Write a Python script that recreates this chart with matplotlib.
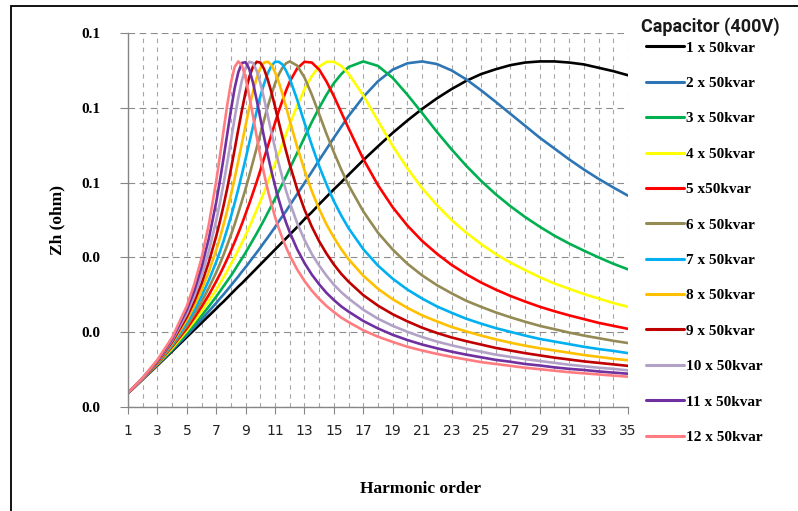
import matplotlib
matplotlib.use("Agg")
import matplotlib.pyplot as plt
from matplotlib.patches import Rectangle
from matplotlib.ticker import FormatStrFormatter

# Порядок гармоніки (спільна вісь x для всіх кривих)
harmonic = [1, 2, 3, 4, 5, 5.5, 6, 6.5, 7, 7.25, 7.5, 7.75, 8, 8.25, 8.5, 8.75,
            9, 9.25, 9.5, 9.75, 10, 10.25, 10.5, 10.75, 11, 11.25, 11.5, 11.75,
            12, 12.5, 13, 13.5, 14, 14.5, 15, 15.5, 16, 17, 18, 19, 20, 21, 22,
            23, 24, 25, 26, 27, 28, 29, 30, 31, 32, 33, 34, 35]

# Zh (ohm) для кожної кількості конденсаторних ступенів
zh_1 = [0.0037, 0.0074, 0.0111, 0.0149, 0.0187, 0.0206, 0.0225, 0.0244, 0.0263, 0.0273,
        0.0282, 0.0292, 0.0302, 0.0312, 0.0322, 0.0331, 0.0341, 0.0351, 0.0361, 0.0371,
        0.0381, 0.0391, 0.0401, 0.0411, 0.0421, 0.0431, 0.0441, 0.0451, 0.0461, 0.0481,
        0.0502, 0.0521, 0.0542, 0.0562, 0.0582, 0.0601, 0.0621, 0.0660, 0.0697, 0.0733,
        0.0766, 0.0797, 0.0825, 0.0850, 0.0872, 0.0890, 0.0903, 0.0914, 0.0921, 0.0924,
        0.0924, 0.0921, 0.0916, 0.0907, 0.0898, 0.0887]
zh_2 = [0.0037, 0.0074, 0.0113, 0.0152, 0.0192, 0.0213, 0.0234, 0.0256, 0.0278, 0.0290,
        0.0301, 0.0313, 0.0325, 0.0337, 0.0349, 0.0362, 0.0374, 0.0387, 0.0400, 0.0413,
        0.0426, 0.0440, 0.0453, 0.0467, 0.0481, 0.0496, 0.0510, 0.0524, 0.0539, 0.0569,
        0.0599, 0.0629, 0.0660, 0.0690, 0.0720, 0.0749, 0.0778, 0.0829, 0.0871, 0.0902,
        0.0919, 0.0924, 0.0917, 0.0900, 0.0876, 0.0847, 0.0816, 0.0784, 0.0752, 0.0720,
        0.0691, 0.0662, 0.0635, 0.0610, 0.0587, 0.0565]
zh_3 = [0.0037, 0.0075, 0.0114, 0.0154, 0.0198, 0.0221, 0.0244, 0.0269, 0.0295, 0.0309,
        0.0323, 0.0337, 0.0351, 0.0366, 0.0382, 0.0397, 0.0413, 0.0430, 0.0447, 0.0464,
        0.0482, 0.0500, 0.0519, 0.0538, 0.0557, 0.0577, 0.0597, 0.0617, 0.0638, 0.0679,
        0.0721, 0.0762, 0.0800, 0.0835, 0.0866, 0.0890, 0.0909, 0.0924, 0.0912, 0.0880,
        0.0835, 0.0786, 0.0736, 0.0689, 0.0645, 0.0605, 0.0569, 0.0537, 0.0508, 0.0482,
        0.0458, 0.0437, 0.0418, 0.0400, 0.0383, 0.0368]
zh_4 = [0.0037, 0.0075, 0.0115, 0.0157, 0.0204, 0.0229, 0.0256, 0.0284, 0.0314, 0.0330,
        0.0347, 0.0364, 0.0382, 0.0400, 0.0420, 0.0439, 0.0460, 0.0481, 0.0504, 0.0527,
        0.0550, 0.0574, 0.0600, 0.0625, 0.0651, 0.0677, 0.0704, 0.0730, 0.0756, 0.0805,
        0.0850, 0.0885, 0.0910, 0.0923, 0.0923, 0.0912, 0.0891, 0.0833, 0.0765, 0.0698,
        0.0638, 0.0585, 0.0540, 0.0500, 0.0466, 0.0436, 0.0409, 0.0386, 0.0366, 0.0347,
        0.0330, 0.0316, 0.0302, 0.0290, 0.0278, 0.0268]
zh_5 = [0.0037, 0.0075, 0.0116, 0.0161, 0.0210, 0.0238, 0.0268, 0.0300, 0.0336, 0.0355,
        0.0375, 0.0396, 0.0418, 0.0441, 0.0465, 0.0490, 0.0517, 0.0544, 0.0573, 0.0602,
        0.0633, 0.0665, 0.0696, 0.0728, 0.0760, 0.0791, 0.0819, 0.0846, 0.0870, 0.0905,
        0.0923, 0.0921, 0.0902, 0.0870, 0.0831, 0.0788, 0.0745, 0.0663, 0.0593, 0.0534,
        0.0485, 0.0444, 0.0410, 0.0380, 0.0355, 0.0333, 0.0314, 0.0297, 0.0282, 0.0268,
        0.0256, 0.0245, 0.0235, 0.0225, 0.0217, 0.0209]
zh_6 = [0.0037, 0.0076, 0.0117, 0.0164, 0.0217, 0.0248, 0.0281, 0.0319, 0.0360, 0.0383,
        0.0407, 0.0433, 0.0460, 0.0488, 0.0519, 0.0551, 0.0584, 0.0619, 0.0656, 0.0693,
        0.0730, 0.0767, 0.0803, 0.0835, 0.0865, 0.0889, 0.0907, 0.0919, 0.0924, 0.0913,
        0.0881, 0.0835, 0.0783, 0.0730, 0.0681, 0.0635, 0.0593, 0.0523, 0.0466, 0.0421,
        0.0383, 0.0352, 0.0326, 0.0304, 0.0284, 0.0268, 0.0253, 0.0240, 0.0228, 0.0217,
        0.0208, 0.0199, 0.0191, 0.0184, 0.0177, 0.0171]
zh_7 = [0.0037, 0.0076, 0.0119, 0.0167, 0.0225, 0.0258, 0.0296, 0.0339, 0.0388, 0.0415,
        0.0444, 0.0476, 0.0509, 0.0545, 0.0583, 0.0623, 0.0664, 0.0707, 0.0750, 0.0791,
        0.0831, 0.0864, 0.0892, 0.0912, 0.0923, 0.0923, 0.0916, 0.0899, 0.0878, 0.0822,
        0.0760, 0.0700, 0.0644, 0.0595, 0.0550, 0.0512, 0.0478, 0.0422, 0.0378, 0.0343,
        0.0314, 0.0290, 0.0269, 0.0252, 0.0236, 0.0223, 0.0211, 0.0201, 0.0191, 0.0182,
        0.0175, 0.0168, 0.0161, 0.0155, 0.0150, 0.0144]
zh_8 = [0.0037, 0.0077, 0.0120, 0.0171, 0.0233, 0.0270, 0.0312, 0.0362, 0.0420, 0.0452,
        0.0488, 0.0526, 0.0568, 0.0611, 0.0658, 0.0706, 0.0754, 0.0801, 0.0843, 0.0880,
        0.0906, 0.0921, 0.0923, 0.0915, 0.0895, 0.0869, 0.0837, 0.0802, 0.0766, 0.0696,
        0.0633, 0.0577, 0.0529, 0.0488, 0.0453, 0.0422, 0.0395, 0.0351, 0.0316, 0.0288,
        0.0265, 0.0245, 0.0229, 0.0214, 0.0202, 0.0191, 0.0181, 0.0172, 0.0164, 0.0157,
        0.0151, 0.0145, 0.0139, 0.0134, 0.0129, 0.0125]
zh_9 = [0.0037, 0.0077, 0.0121, 0.0174, 0.0241, 0.0282, 0.0330, 0.0388, 0.0457, 0.0496,
        0.0539, 0.0585, 0.0636, 0.0688, 0.0742, 0.0794, 0.0843, 0.0883, 0.0910, 0.0923,
        0.0921, 0.0904, 0.0876, 0.0842, 0.0803, 0.0762, 0.0722, 0.0684, 0.0648, 0.0583,
        0.0528, 0.0482, 0.0443, 0.0410, 0.0381, 0.0356, 0.0335, 0.0299, 0.0271, 0.0248,
        0.0229, 0.0212, 0.0198, 0.0186, 0.0176, 0.0167, 0.0158, 0.0151, 0.0144, 0.0138,
        0.0132, 0.0127, 0.0122, 0.0118, 0.0114, 0.0110]
zh_10 = [0.0037, 0.0077, 0.0123, 0.0178, 0.0250, 0.0296, 0.0350, 0.0417, 0.0499, 0.0546,
         0.0598, 0.0654, 0.0712, 0.0772, 0.0827, 0.0874, 0.0907, 0.0923, 0.0920, 0.0899,
         0.0866, 0.0825, 0.0780, 0.0735, 0.0692, 0.0651, 0.0613, 0.0578, 0.0547, 0.0492,
         0.0447, 0.0409, 0.0378, 0.0351, 0.0327, 0.0307, 0.0290, 0.0260, 0.0236, 0.0217,
         0.0201, 0.0187, 0.0175, 0.0165, 0.0156, 0.0148, 0.0140, 0.0134, 0.0128, 0.0123,
         0.0118, 0.0113, 0.0109, 0.0105, 0.0102, 0.0098]
zh_11 = [0.0037, 0.0078, 0.0124, 0.0182, 0.0260, 0.0310, 0.0373, 0.0451, 0.0548, 0.0605,
         0.0666, 0.0730, 0.0794, 0.0852, 0.0895, 0.0920, 0.0922, 0.0903, 0.0867, 0.0821,
         0.0772, 0.0722, 0.0675, 0.0631, 0.0591, 0.0555, 0.0522, 0.0493, 0.0467, 0.0422,
         0.0385, 0.0354, 0.0328, 0.0305, 0.0286, 0.0269, 0.0255, 0.0230, 0.0210, 0.0193,
         0.0179, 0.0167, 0.0157, 0.0148, 0.0140, 0.0133, 0.0126, 0.0121, 0.0115, 0.0111,
         0.0106, 0.0102, 0.0099, 0.0095, 0.0092, 0.0089]
zh_12 = [0.0038, 0.0078, 0.0126, 0.0186, 0.0270, 0.0327, 0.0398, 0.0489, 0.0604, 0.0671,
         0.0740, 0.0808, 0.0867, 0.0909, 0.0924, 0.0913, 0.0879, 0.0831, 0.0778, 0.0723,
         0.0671, 0.0624, 0.0581, 0.0543, 0.0508, 0.0478, 0.0451, 0.0427, 0.0405, 0.0368,
         0.0337, 0.0311, 0.0289, 0.0270, 0.0254, 0.0239, 0.0227, 0.0205, 0.0188, 0.0174,
         0.0161, 0.0151, 0.0142, 0.0134, 0.0127, 0.0120, 0.0115, 0.0110, 0.0105, 0.0101,
         0.0097, 0.0093, 0.0090, 0.0087, 0.0084, 0.0081]

series = [zh_1, zh_2, zh_3, zh_4, zh_5, zh_6, zh_7, zh_8, zh_9, zh_10, zh_11, zh_12]
labels = ["1 x 50kvar", "2 x 50kvar", "3 x 50kvar", "4 x 50kvar", "5 x50kvar",
          "6 x 50kvar", "7 x 50kvar", "8 x 50kvar", "9 x 50kvar", "10 x 50kvar",
          "11 x 50kvar", "12 x 50kvar"]
colors = ["#000000", "#2e75b6", "#00b050", "#ffff00", "#ff0000", "#948a54",
          "#00b0f0", "#ffc000", "#c00000", "#b3a2c7", "#7030a0", "#ff7c80"]
y_ticks = [0.0, 0.02, 0.04, 0.06, 0.08, 0.1]

serif_bold = {"family": "Liberation Serif", "weight": "bold"}

fig = plt.figure(figsize=(7.98, 5.11), dpi=100)
ax = fig.add_axes([128 / 798, 104 / 511, 500 / 798, 374 / 511])

for z, lab, col in zip(series, labels, colors):
    ax.plot(harmonic, z, color=col, lw=1.9, label=lab, solid_capstyle="round")

ax.set_xlim(1, 35)
ax.set_ylim(0, 0.1)
ax.set_xticks(range(1, 36, 2))
ax.set_xticks(range(2, 35, 2), minor=True)
ax.set_yticks(y_ticks)
ax.yaxis.set_major_formatter(FormatStrFormatter("%.1f"))

# Сітка
ax.grid(True, which="both", axis="x", ls=(0, (4, 4)), color="#a6a6a6", lw=0.8)
ax.grid(True, which="major", axis="y", ls=(0, (6, 4)), color="#8c8c8c", lw=0.8)
ax.set_axisbelow(True)

for s in ["top", "right"]:
    ax.spines[s].set_visible(False)
for s in ["left", "bottom"]:
    ax.spines[s].set_color("#868686")
    ax.spines[s].set_linewidth(1.0)

ax.tick_params(axis="x", which="major", length=5, color="#868686", pad=7,
               labelsize=10, labelcolor="#222222")
ax.tick_params(axis="x", which="minor", length=0)
ax.tick_params(axis="y", length=6, color="#868686", pad=14)
for t in ax.get_yticklabels():
    t.set_fontfamily("Liberation Serif")
    t.set_fontweight("bold")
    t.set_fontsize(11)

ax.set_xlabel("Harmonic order", fontdict=serif_bold, fontsize=12.5)
ax.xaxis.set_label_coords(0.584, -0.198)
ax.set_ylabel("Zh (ohm)", fontdict=serif_bold, fontsize=12.5)
ax.yaxis.set_label_coords(-0.125, 0.5)

# Легенда (заголовок окремо, щоб відступ був як в оригіналі)
leg = ax.legend(loc="upper left", bbox_to_anchor=(646 / 798, 1 - 41 / 511),
                bbox_transform=fig.transFigure, frameon=False, borderpad=0,
                borderaxespad=0, handlelength=2.5, handletextpad=0.15,
                labelspacing=1.42, prop={"family": "Liberation Serif",
                                         "weight": "bold", "size": 11})
for line in leg.get_lines():
    line.set_linewidth(2.2)
fig.text(710 / 798, 1 - 27 / 511, "Capacitor (400V)", ha="center", va="center",
         family="Roboto", weight="bold", fontsize=13, color="#1a1a1a")

# Рамка навколо рисунка
fig.add_artist(Rectangle((11 / 798, -0.1), 1.2, 1.1 - 6 / 511,
                         transform=fig.transFigure, fill=False,
                         edgecolor="black", lw=1.3))

fig.savefig("out.png", dpi=100)
